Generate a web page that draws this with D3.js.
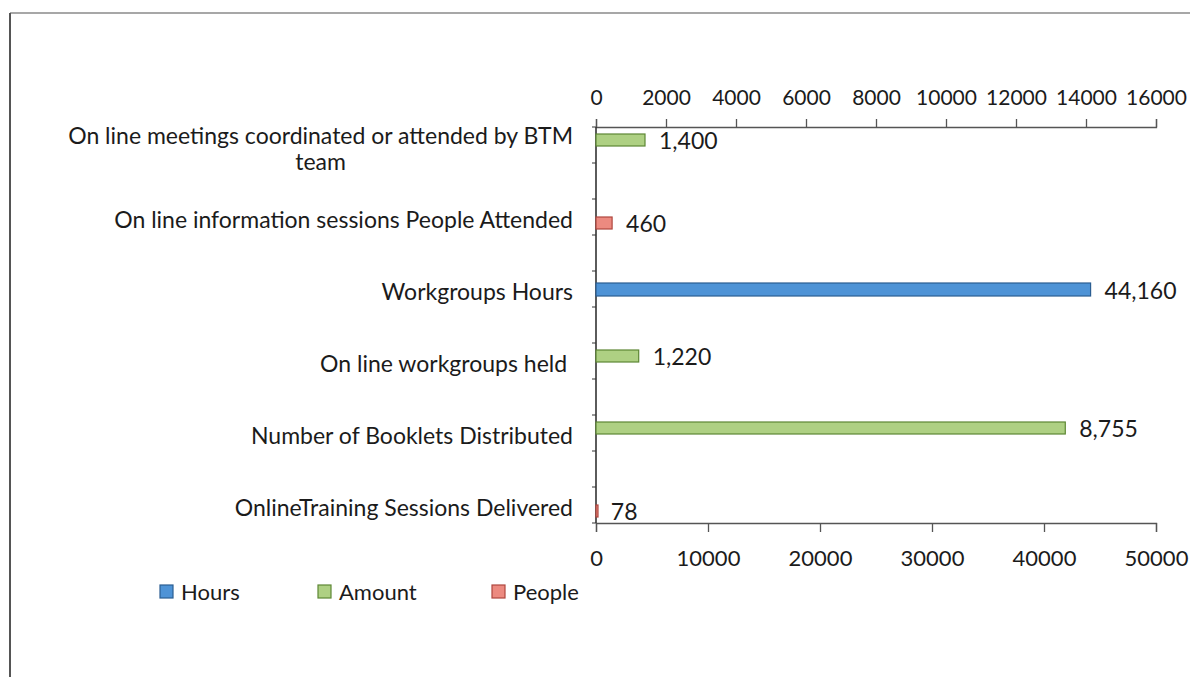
<!DOCTYPE html>
<html><head><meta charset="utf-8">
<script src="https://cdn.jsdelivr.net/npm/d3@7/dist/d3.min.js"></script>
<style>
html,body{margin:0;padding:0;background:#fff;}
svg{display:block;}
text{font-family:Lato,"Liberation Sans",sans-serif;fill:#1b1b1b;}
</style></head><body>
<svg id="chart" width="1190" height="677"></svg>
<script>
// ---- data ----
const categories = [
  "On line meetings coordinated or attended by BTM|team", "",
  "On line information sessions People Attended", "",
  "Workgroups Hours", "",
  "On line workgroups held ", "",
  "Number of Booklets Distributed", "",
  "OnlineTraining Sessions Delivered"
];
const seriesNames = ["Hours", "Amount", "People"];
const barCategory = [0, 2, 4, 6, 8, 10];
const barSeries = ["Amount", "People", "Hours", "Amount", "Amount", "People"];
const barAxis = ["top", "top", "bottom", "top", "bottom", "bottom"];
const barValues = [1400, 460, 44160, 1220, 41900, 78];
const barLabels = ["1,400", "460", "44,160", "1,220", "8,755", "78"];
const topTicks = [0, 2000, 4000, 6000, 8000, 10000, 12000, 14000, 16000];
const bottomTicks = [0, 10000, 20000, 30000, 40000, 50000];

// ---- styles ----
const fills = {Hours: "#4e93d6", Amount: "#aed083", People: "#ec8a80"};
const strokes = {Hours: "#2b5e92", Amount: "#5d8734", People: "#b0463e"};

const svg = d3.select("#chart");
const L = 596, R = 1156, T = 127, B = 523;

// frame
svg.append("line").attr("x1", 10).attr("x2", 1190).attr("y1", 13).attr("y2", 13)
  .attr("stroke", "#8a8a8a").attr("stroke-width", 1.5);
svg.append("line").attr("x1", 10).attr("x2", 10).attr("y1", 13).attr("y2", 677)
  .attr("stroke", "#555").attr("stroke-width", 2);

const xTop = d3.scaleLinear().domain([0, 16000]).range([L, R]);
const xBot = d3.scaleLinear().domain([0, 50000]).range([L, R]);
const y = d3.scaleBand().domain(d3.range(categories.length)).range([T, B]).padding(0);
const sub = d3.scalePoint().domain(["Amount", "Hours", "People"]).range([13, 24]);

const axisColor = "#555";
// top axis
const gTop = svg.append("g").attr("transform", `translate(0,${T})`)
  .call(d3.axisTop(xTop).tickValues(topTicks).tickSize(8).tickFormat(d3.format("d")));
// bottom axis
const gBot = svg.append("g").attr("transform", `translate(0,${B})`)
  .call(d3.axisBottom(xBot).tickValues(bottomTicks).tickSize(9).tickFormat(d3.format("d")));
[gTop, gBot].forEach(g => {
  g.select(".domain").attr("stroke", axisColor).attr("stroke-width", 1.3);
  g.selectAll(".tick line").attr("stroke", axisColor).attr("stroke-width", 1.3);
  g.selectAll(".tick text").style("font-size", "22px").attr("fill", "#1b1b1b");
});
gTop.selectAll(".tick text").style("font-size", "21px").attr("dy", "0").attr("y", -22);
gBot.selectAll(".tick text").attr("dy", "0").attr("y", 43);

// left category axis ticks
const edges = d3.range(categories.length + 1).map(i => i < categories.length ? y(i) : B);
svg.append("g").attr("transform", `translate(${L},0)`)
  .selectAll("line.edge").data(edges).join("line").attr("class", "edge")
  .attr("x1", -4).attr("x2", 0).attr("y1", d => d).attr("y2", d => d)
  .attr("stroke", axisColor).attr("stroke-width", 1.2);
svg.append("line").attr("x1", L).attr("x2", L).attr("y1", T).attr("y2", B)
  .attr("stroke", "#333").attr("stroke-width", 1.6);

// category labels
const catFont = "23px";
categories.forEach((c, i) => {
  if (!c) return;
  const lines = c.split("|");
  const cy = y(i) + y.bandwidth() / 2 + 4;
  if (lines.length === 1) {
    svg.append("text").style("font-size", catFont).attr("xml:space", "preserve")
      .attr("text-anchor", "end").attr("x", 573).attr("y", cy + 7).text(lines[0]);
  } else {
    const tmp = svg.append("text").style("font-size", catFont).text(lines[0]);
    const w = tmp.node().getComputedTextLength(); tmp.remove();
    const cx = 573 - w / 2;
    lines.forEach((ln, k) => {
      svg.append("text").style("font-size", catFont).attr("text-anchor", "middle")
        .attr("x", cx).attr("y", cy + 1 + (k - 0.5) * 26 + 7).text(ln);
    });
  }
});

// bars
barValues.forEach((v, i) => {
  const s = barSeries[i];
  const sc = barAxis[i] === "top" ? xTop : xBot;
  const cy = y(barCategory[i]) + sub(s);
  const h = s === "Hours" ? 13 : 12;
  svg.append("rect").attr("x", sc(0)).attr("y", cy - h / 2)
    .attr("width", Math.max(sc(v) - sc(0), 2)).attr("height", h)
    .attr("fill", fills[s]).attr("stroke", strokes[s]).attr("stroke-width", 1.2);
  svg.append("text").attr("x", sc(v) + 14).attr("y", cy + 9)
    .style("font-size", "23px").text(barLabels[i]);
});

// legend
const legendX = [160, 318, 492];
seriesNames.forEach((s, i) => {
  const g = svg.append("g").attr("transform", `translate(${legendX[i]},585)`);
  g.append("rect").attr("x", 0).attr("y", 0).attr("width", 13).attr("height", 13)
    .attr("fill", fills[s]).attr("stroke", strokes[s]).attr("stroke-width", 1.2);
  g.append("text").attr("x", 21).attr("y", 15).style("font-size", "22px").text(s);
});
</script>
</body></html>
